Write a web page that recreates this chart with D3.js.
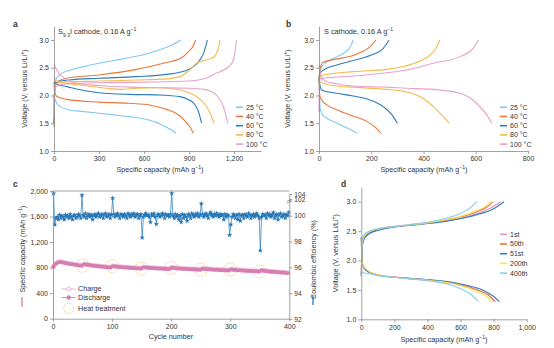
<!DOCTYPE html>
<html><head><meta charset="utf-8">
<script src="https://cdn.jsdelivr.net/npm/d3@7"></script>
<style>
body{margin:0;background:#fff}
svg{display:block}
text{font-family:"Liberation Sans",Arial,Helvetica,sans-serif;fill:#333}
</style>
</head><body>
<svg id="fig" width="554" height="348"></svg>
<script>
// ---------------- DATA ----------------
const tempLabels = ["25 °C", "40 °C", "60 °C", "80 °C", "100 °C"];
const tempColors = ["#7fc9ee", "#e8793a", "#2d7cbd", "#f5bb4e", "#e8a1c9"];

// panel a: S9.3I cathode  [capacity mAh/g, voltage V]
const a25Charge = [[0,1.95],[5,2.15],[15,2.3],[40,2.38],[100,2.45],[200,2.52],[300,2.58],[400,2.63],[500,2.68],[600,2.74],[700,2.82],[780,2.9],[847,3.0]];
const a25Discharge = [[0,2.0],[10,1.9],[40,1.8],[100,1.74],[200,1.71],[300,1.68],[400,1.65],[500,1.62],[600,1.58],[680,1.52],[740,1.44],[790,1.37],[813,1.32]];
const a40Charge = [[0,1.43],[3,2.0],[8,2.2],[30,2.26],[84,2.31],[300,2.37],[550,2.47],[729,2.58],[850,2.68],[900,2.8],[930,2.9],[944,3.0]];
const a40Discharge = [[0,2.25],[5,2.05],[20,1.98],[84,1.93],[300,1.88],[500,1.86],[650,1.82],[750,1.75],[840,1.63],[880,1.52],[910,1.42],[929,1.32]];
const a60Charge = [[0,1.5],[3,2.0],[10,2.2],[40,2.26],[100,2.28],[300,2.31],[550,2.34],[750,2.38],[870,2.44],[930,2.52],[970,2.63],[1000,2.78],[1015,2.92],[1022,3.0]];
const a60Discharge = [[0,2.25],[20,2.2],[84,2.16],[200,2.09],[300,2.05],[500,2.02],[700,2.01],[840,1.98],[900,1.92],[935,1.85],[962,1.72],[984,1.5]];
const a80Charge = [[0,1.6],[3,2.0],[10,2.2],[50,2.24],[300,2.26],[550,2.28],[750,2.3],[840,2.34],[900,2.45],[950,2.58],[1000,2.63],[1060,2.68],[1090,2.8],[1100,2.9],[1107,3.0]];
const a80Discharge = [[0,2.35],[10,2.27],[80,2.22],[200,2.18],[350,2.13],[450,2.11],[550,2.13],[700,2.14],[840,2.1],[900,2.05],[950,1.98],[1000,1.86],[1030,1.74],[1050,1.62],[1067,1.5]];
const a100Charge = [[0,1.6],[3,2.0],[10,2.15],[50,2.2],[300,2.23],[600,2.24],[900,2.26],[1000,2.3],[1080,2.4],[1150,2.49],[1190,2.6],[1205,2.75],[1212,2.9],[1218,3.0]];
const a100Discharge = [[0,2.57],[20,2.45],[60,2.33],[150,2.22],[300,2.18],[500,2.15],[700,2.14],[900,2.13],[1000,2.11],[1050,2.07],[1100,1.95],[1129,1.8],[1150,1.6],[1158,1.5]];

// panel b: S cathode
const b25Charge = [[0,2.3],[5,2.45],[15,2.55],[40,2.63],[70,2.7],[100,2.78],[120,2.88],[131,3.0]];
const b25Discharge = [[0,2.3],[2,2.0],[5,1.75],[15,1.65],[30,1.59],[70,1.5],[110,1.41],[147,1.32]];
const b40Charge = [[0,2.3],[5,2.5],[15,2.6],[60,2.65],[130,2.72],[170,2.8],[200,2.9],[218,3.0]];
const b40Discharge = [[0,2.3],[3,2.0],[10,1.92],[30,1.83],[70,1.74],[130,1.63],[180,1.54],[215,1.43],[237,1.32]];
const b60Charge = [[0,2.3],[5,2.4],[17,2.46],[68,2.55],[131,2.63],[195,2.72],[246,2.85],[268,3.0]];
const b60Discharge = [[0,2.3],[5,2.15],[10,2.1],[68,2.04],[131,1.99],[195,1.92],[246,1.8],[278,1.66],[300,1.5]];
const b80Charge = [[0,2.3],[5,2.34],[17,2.37],[131,2.43],[259,2.47],[330,2.53],[387,2.62],[430,2.75],[450,2.87],[463,3.0]];
const b80Discharge = [[0,2.3],[5,2.25],[17,2.22],[68,2.17],[131,2.15],[259,2.11],[330,2.07],[387,1.98],[437,1.8],[476,1.62],[499,1.5]];
const b100Charge = [[0,1.7],[2,2.2],[5,2.3],[17,2.31],[131,2.35],[259,2.41],[336,2.46],[437,2.58],[540,2.7],[590,2.85],[610,3.0]];
const b100Discharge = [[0,2.55],[5,2.4],[15,2.3],[29,2.25],[68,2.21],[131,2.17],[259,2.15],[336,2.13],[437,2.11],[540,2.04],[580,1.95],[603,1.86],[642,1.65],[661,1.5]];

// panel c: cycling
const capStep = 4;               // capacity sampled every 4 cycles starting at cycle 1
const dischargeCap = [815,860,885,888,880,872,865,858,852,846,840,835,830,852,846,840,834,829,825,820,
  816,812,808,805,802,822,818,814,810,806,803,800,797,795,793,790,788,785,803,800,
  797,795,793,790,788,786,784,782,780,778,798,794,790,787,784,782,780,778,776,774,
  772,770,768,784,780,776,773,770,768,766,764,762,760,758,756,772,768,764,760,757,
  754,752,750,748,746,744,742,740,755,750,745,741,737,734,731,728,725,722,719,716];
const chargeCap = [822,866,890,892,885,877,870,863,857,851,845,840,836,857,851,845,839,834,830,825,
  821,817,813,810,807,827,823,819,815,811,808,805,802,800,798,795,793,790,808,805,
  802,800,798,795,793,791,789,787,785,783,803,799,795,792,789,787,785,783,781,779,
  777,775,773,789,785,781,778,775,773,771,769,767,765,763,761,777,773,769,765,762,
  759,757,755,753,751,749,747,745,760,755,750,746,742,739,736,733,730,727,724,721];
const ceStep = 2;                // coulombic efficiency every 2 cycles starting at cycle 1
const ceValues = [104.2,99.3,99.8,99.9,99.7,100.1,99.8,100.0,99.9,99.7,100.1,99.9,100.0,99.8,100.2,99.9,99.7,100.0,100.1,99.8,
  99.9,100.2,100.0,99.8,103.6,100.1,99.9,100.3,99.8,100.0,100.2,99.9,100.1,99.7,100.0,100.2,99.9,100.1,100.3,99.9,
  100.0,100.2,99.8,100.1,100.3,99.9,100.0,100.2,99.8,100.1,102.5,100.2,99.9,100.1,100.3,100.0,99.8,100.2,100.1,99.9,
  100.2,100.0,99.8,100.3,100.1,99.9,100.2,100.0,100.3,99.9,100.1,100.2,99.8,100.0,100.2,98.3,99.9,100.1,100.3,100.0,
  100.1,99.9,99.5,100.2,100.0,100.3,99.9,99.35,100.1,100.2,99.9,100.0,100.3,100.1,99.8,100.2,100.0,100.1,99.9,100.2,
  104.3,100.0,99.8,100.2,99.9,100.1,99.7,100.0,99.5,100.2,99.8,100.1,99.9,99.6,100.2,100.0,99.8,100.3,100.1,99.9,
  100.2,100.0,100.3,99.9,100.1,101.5,100.2,99.9,100.1,100.3,100.0,99.8,100.2,100.4,100.1,99.9,100.2,100.0,100.3,100.1,
  99.9,100.2,100.0,100.1,99.7,100.2,99.9,100.1,100.0,98.5,99.3,99.9,100.2,100.0,99.8,100.1,99.7,100.2,99.6,100.0,
  100.1,99.8,100.2,100.0,99.9,100.3,100.1,99.8,100.0,100.2,99.9,100.1,100.3,100.0,99.8,97.3,99.9,100.2,100.0,100.1,
  99.8,100.3,100.0,100.2,99.9,100.1,100.4,99.8,100.0,100.2,99.7,100.1,100.3,99.9,100.0,100.2,99.8,100.1,100.0,100.4];
const heatCycles = [50,100,150,200,250,300,350];
const capTicks = [0,400,800,1200,1600,2000];
const ceTicks = [92,94,96,98,100,102,104];

// panel d: cycles of S9.3I
const cycLabels = ["1st","50th","51st","200th","400th"];
const cycColors = ["#ea93c4","#ea7a35","#2f80c2","#f4df55","#86cdf0"];
const d1Charge = [[0,1.75],[3,2.1],[8,2.3],[20,2.4],[50,2.47],[100,2.52],[200,2.57],[300,2.6],[400,2.63],[500,2.67],[600,2.72],[700,2.8],[780,2.89],[843,3.0]];
const d50Charge = [[0,1.75],[3,2.1],[8,2.3],[20,2.41],[50,2.48],[100,2.53],[200,2.58],[300,2.61],[400,2.64],[500,2.68],[600,2.74],[700,2.83],[760,2.91],[798,3.0]];
const d51Charge = [[0,1.75],[3,2.1],[8,2.28],[20,2.38],[50,2.46],[100,2.51],[200,2.57],[300,2.6],[400,2.63],[500,2.66],[600,2.71],[700,2.78],[800,2.88],[863,3.0]];
const d200Charge = [[0,1.75],[3,2.15],[8,2.32],[20,2.42],[50,2.49],[100,2.54],[200,2.58],[300,2.61],[400,2.64],[500,2.69],[600,2.75],[700,2.85],[750,2.92],[784,3.0]];
const d400Charge = [[0,1.72],[3,2.2],[8,2.38],[20,2.45],[50,2.5],[100,2.54],[200,2.58],[300,2.61],[400,2.65],[500,2.71],[600,2.8],[660,2.9],[698,3.0]];
const d1Discharge = [[0,2.4],[4,2.0],[10,1.92],[30,1.85],[60,1.79],[113,1.75],[214,1.72],[415,1.67],[550,1.62],[650,1.55],[720,1.48],[770,1.41],[812,1.3]];
const d50Discharge = [[0,2.4],[4,2.0],[10,1.91],[30,1.84],[60,1.79],[113,1.75],[214,1.71],[415,1.66],[550,1.61],[650,1.55],[720,1.48],[770,1.41],[804,1.3]];
const d51Discharge = [[0,2.4],[4,2.0],[10,1.9],[30,1.83],[60,1.78],[113,1.74],[214,1.71],[415,1.67],[550,1.63],[650,1.57],[740,1.49],[790,1.41],[835,1.3]];
const d200Discharge = [[0,2.4],[4,2.0],[10,1.92],[30,1.85],[60,1.79],[113,1.75],[214,1.71],[415,1.66],[550,1.61],[650,1.53],[710,1.46],[760,1.38],[788,1.3]];
const d400Discharge = [[0,1.8],[30,1.78],[60,1.77],[113,1.74],[214,1.71],[415,1.65],[520,1.6],[600,1.52],[660,1.43],[708,1.3]];

const voltTicks = [1.0,1.5,2.0,2.5,3.0];
const aCapTicks = [0,300,600,900,1200];
const bCapTicks = [0,200,400,600,800];
const dCapTicks = [0,200,400,600,800,1000];
const cycleTicks = [0,100,200,300,400];

// ---------------- DRAWING ----------------
const svg = d3.select("#fig");
const AX = "#8a8a8a";
const FS = 7;
const fmtComma = d3.format(",");

function styleAxis(g) {
  g.selectAll("path.domain").attr("stroke", AX).attr("stroke-width", 0.8);
  g.selectAll(".tick line").attr("stroke", AX).attr("stroke-width", 0.8);
  g.selectAll(".tick text").attr("font-size", FS).attr("fill", "#333")
    .attr("font-family", '"Liberation Sans",Arial,sans-serif');
}

function supText(sel, parts) {
  // parts: array of [text, isSup]
  parts.forEach(p => {
    const t = sel.append("tspan").text(p[0]);
    if (p[1] === "sup") t.attr("baseline-shift", "super").attr("font-size", "70%");
    if (p[1] === "sub") t.attr("baseline-shift", "sub").attr("font-size", "70%");
  });
}

function voltagePanel(cfg) {
  const x = d3.scaleLinear().domain(cfg.xDomain).range(cfg.xRange);
  const y = d3.scaleLinear().domain([1.0, 3.25]).range(cfg.yRange);
  const g = svg.append("g");
  const line = d3.line().x(d => x(d[0])).y(d => y(d[1])).curve(d3.curveMonotoneX);
  cfg.series.forEach((s, i) => {
    g.append("path").datum(s.data).attr("d", line)
      .attr("fill", "none").attr("stroke", s.color).attr("stroke-width", 1.1);
  });
  const gx = g.append("g").attr("transform", `translate(0,${cfg.yRange[0]})`)
    .call(d3.axisBottom(x).tickValues(cfg.xTicks).tickFormat(fmtComma).tickSize(3).tickSizeOuter(0).tickPadding(2.5));
  styleAxis(gx);
  const gy = g.append("g").attr("transform", `translate(${cfg.xRange[0]},0)`)
    .call(d3.axisLeft(y).tickValues(voltTicks).tickFormat(d3.format(".1f")).tickSize(3).tickSizeOuter(0).tickPadding(2));
  styleAxis(gy);
  // axis labels
  const xl = g.append("text").attr("x", cfg.xLabelX).attr("y", cfg.xLabelY)
    .attr("text-anchor", "middle").attr("font-size", 7.2);
  supText(xl, [["Specific capacity (mAh g"], ["−1", "sup"], [")"]]);
  const yl = g.append("text")
    .attr("transform", `translate(${cfg.yLabelX},${(cfg.yRange[0] + cfg.yRange[1]) / 2}) rotate(-90)`)
    .attr("text-anchor", "middle").attr("font-size", 7.2);
  supText(yl, [["Voltage (V, versus Li/Li"], ["+", "sup"], [")"]]);
  // legend
  cfg.legend.labels.forEach((lab, i) => {
    const ly = cfg.legend.y + i * cfg.legend.dy;
    g.append("line").attr("x1", cfg.legend.x).attr("x2", cfg.legend.x + 7)
      .attr("y1", ly).attr("y2", ly).attr("stroke", cfg.legend.colors[i]).attr("stroke-width", 1.6);
    g.append("text").attr("x", cfg.legend.x + 10).attr("y", ly + 2.4)
      .attr("font-size", 7).text(lab);
  });
  return g;
}

// panel a
const aSeries = [];
[[a25Charge,a25Discharge],[a40Charge,a40Discharge],[a60Charge,a60Discharge],[a80Charge,a80Discharge],[a100Charge,a100Discharge]]
  .forEach((p, i) => { aSeries.push({data: p[0], color: tempColors[i]}); aSeries.push({data: p[1], color: tempColors[i]}); });
voltagePanel({
  xDomain: [0, 1380], xRange: [54, 261], yRange: [151, 26.1], xTicks: aCapTicks,
  series: aSeries, xLabelX: 160, xLabelY: 172, yLabelX: 27,
  legend: {x: 236, y: 107.3, dy: 9.2, labels: tempLabels, colors: tempColors}
});
const ta = svg.append("text").attr("x", 58).attr("y", 33.5).attr("font-size", 7.3);
supText(ta, [["S"], ["9.3", "sub"], ["I cathode, 0.16 A g"], ["−1", "sup"]]);

// panel b
const bSeries = [];
[[b25Charge,b25Discharge],[b40Charge,b40Discharge],[b60Charge,b60Discharge],[b80Charge,b80Discharge],[b100Charge,b100Discharge]]
  .forEach((p, i) => { bSeries.push({data: p[0], color: tempColors[i]}); bSeries.push({data: p[1], color: tempColors[i]}); });
voltagePanel({
  xDomain: [0, 800], xRange: [319, 528], yRange: [151, 26.1], xTicks: bCapTicks,
  series: bSeries, xLabelX: 424, xLabelY: 172, yLabelX: 290,
  legend: {x: 500, y: 107.3, dy: 9.2, labels: tempLabels, colors: tempColors}
});
const tb = svg.append("text").attr("x", 324).attr("y", 33.5).attr("font-size", 7.3);
supText(tb, [["S cathode, 0.16 A g"], ["−1", "sup"]]);

// panel d
const dSeries = [];
[[d1Charge,d1Discharge],[d50Charge,d50Discharge],[d51Charge,d51Discharge],[d200Charge,d200Discharge],[d400Charge,d400Discharge]]
  .forEach((p, i) => { dSeries.push({data: p[0], color: cycColors[i]}); dSeries.push({data: p[1], color: cycColors[i]}); });
voltagePanel({
  xDomain: [0, 1000], xRange: [361.3, 526.7], yRange: [319.3, 187], xTicks: dCapTicks,
  series: dSeries, xLabelX: 444, xLabelY: 341.5, yLabelX: 338,
  legend: {x: 500, y: 234.3, dy: 9.7, labels: cycLabels, colors: cycColors}
});

// panel c
(function () {
  const x = d3.scaleLinear().domain([0, 400]).range([53, 289.3]);
  const yL = d3.scaleLinear().domain([0, 2000]).range([318.7, 191]);
  const yR = d3.scaleLinear().domain([92, 100, 102, 104]).range([319, 215.7, 199.5, 194]);
  const g = svg.append("g");
  const pink = "#d87db2", pinkLight = "#e6a6cc", blue = "#2777b6", orange = "#f2b459";

  // heat treatment circles
  heatCycles.forEach(c => {
    const idx = Math.round((c - 1) / capStep);
    g.append("circle").attr("cx", x(c)).attr("cy", yL(dischargeCap[idx]))
      .attr("r", 6.5).attr("fill", "none").attr("stroke", orange)
      .attr("stroke-width", 0.8).attr("stroke-dasharray", "1.4,1.2");
  });
  // charge (open) & discharge (filled)
  g.append("g").selectAll("circle").data(chargeCap).join("circle")
    .attr("cx", (d, i) => x(1 + i * capStep)).attr("cy", d => yL(d)).attr("r", 2)
    .attr("fill", "none").attr("stroke", pinkLight).attr("stroke-width", 0.7);
  g.append("g").selectAll("circle").data(dischargeCap).join("circle")
    .attr("cx", (d, i) => x(1 + i * capStep)).attr("cy", d => yL(d)).attr("r", 2)
    .attr("fill", pink).attr("stroke", "none");
  // CE
  const ceLine = d3.line().x((d, i) => x(1 + i * ceStep)).y(d => yR(d));
  g.append("path").datum(ceValues).attr("d", ceLine).attr("fill", "none")
    .attr("stroke", blue).attr("stroke-width", 0.7);
  const star = d3.symbol().type(d3.symbolStar).size(9);
  g.append("g").selectAll("path").data(ceValues).join("path")
    .attr("transform", (d, i) => `translate(${x(1 + i * ceStep)},${yR(d)})`)
    .attr("d", star).attr("fill", blue);

  // frame top
  g.append("line").attr("x1", x(0)).attr("x2", x(400)).attr("y1", 191).attr("y2", 191)
    .attr("stroke", AX).attr("stroke-width", 0.8);
  const gx = g.append("g").attr("transform", "translate(0,318.7)")
    .call(d3.axisBottom(x).tickValues(cycleTicks).tickSize(3).tickSizeOuter(0).tickPadding(2.5));
  styleAxis(gx);
  const gl = g.append("g").attr("transform", `translate(${x(0)},0)`)
    .call(d3.axisLeft(yL).tickValues(capTicks).tickFormat(fmtComma).tickSize(3).tickSizeOuter(0).tickPadding(2));
  styleAxis(gl);
  const gr = g.append("g").attr("transform", `translate(${x(400)},0)`)
    .call(d3.axisRight(yR).tickValues(ceTicks).tickSize(3).tickSizeOuter(0).tickPadding(2));
  styleAxis(gr);
  gr.selectAll(".tick text").attr("font-size", 6.6);
  // axis break marker
  [200.2, 202].forEach(yy => {
    g.append("line").attr("x1", x(400) - 2.5).attr("x2", x(400) + 2.5)
      .attr("y1", yy + 1).attr("y2", yy - 1).attr("stroke", "#666").attr("stroke-width", 0.6);
  });

  // labels
  g.append("text").attr("x", 171).attr("y", 339).attr("text-anchor", "middle")
    .attr("font-size", 7.2).text("Cycle number");
  const yl = g.append("text").attr("transform", "translate(24.5,249) rotate(-90)")
    .attr("text-anchor", "middle").attr("font-size", 7.2);
  supText(yl, [["Specific capacity (mAh g"], ["−1", "sup"], [")"]]);
  g.append("line").attr("x1", 22).attr("x2", 22).attr("y1", 297).attr("y2", 307)
    .attr("stroke", pink).attr("stroke-width", 1.3);
  g.append("text").attr("transform", "translate(315.5,259.5) rotate(-90)")
    .attr("text-anchor", "middle").attr("font-size", 7.2).text("Coulombic efficiency (%)");
  g.append("line").attr("x1", 313).attr("x2", 313).attr("y1", 295).attr("y2", 305)
    .attr("stroke", blue).attr("stroke-width", 1.3);

  // legend
  const lx = 61.7;
  g.append("line").attr("x1", lx).attr("x2", lx + 14).attr("y1", 289).attr("y2", 289)
    .attr("stroke", pinkLight).attr("stroke-width", 0.9);
  g.append("circle").attr("cx", lx + 7).attr("cy", 289).attr("r", 2.2)
    .attr("fill", "#fff").attr("stroke", pinkLight).attr("stroke-width", 0.8);
  g.append("text").attr("x", 78).attr("y", 291.4).attr("font-size", 7.2).text("Charge");
  g.append("line").attr("x1", lx).attr("x2", lx + 14).attr("y1", 297.5).attr("y2", 297.5)
    .attr("stroke", pink).attr("stroke-width", 0.9);
  g.append("circle").attr("cx", lx + 7).attr("cy", 297.5).attr("r", 2.2).attr("fill", pink);
  g.append("text").attr("x", 78).attr("y", 299.9).attr("font-size", 7.2).text("Discharge");
  g.append("circle").attr("cx", lx + 7).attr("cy", 308.3).attr("r", 5).attr("fill", "none")
    .attr("stroke", orange).attr("stroke-width", 0.8).attr("stroke-dasharray", "1.4,1.2");
  g.append("text").attr("x", 78).attr("y", 310.7).attr("font-size", 7.2).text("Heat treatment");
})();

// panel letters
[["a", 13, 27], ["b", 286, 27], ["c", 13, 187], ["d", 341, 187]].forEach(p => {
  svg.append("text").attr("x", p[1]).attr("y", p[2]).attr("font-size", 8.5)
    .attr("font-weight", "bold").attr("fill", "#111").text(p[0]);
});
</script>
</body></html>
